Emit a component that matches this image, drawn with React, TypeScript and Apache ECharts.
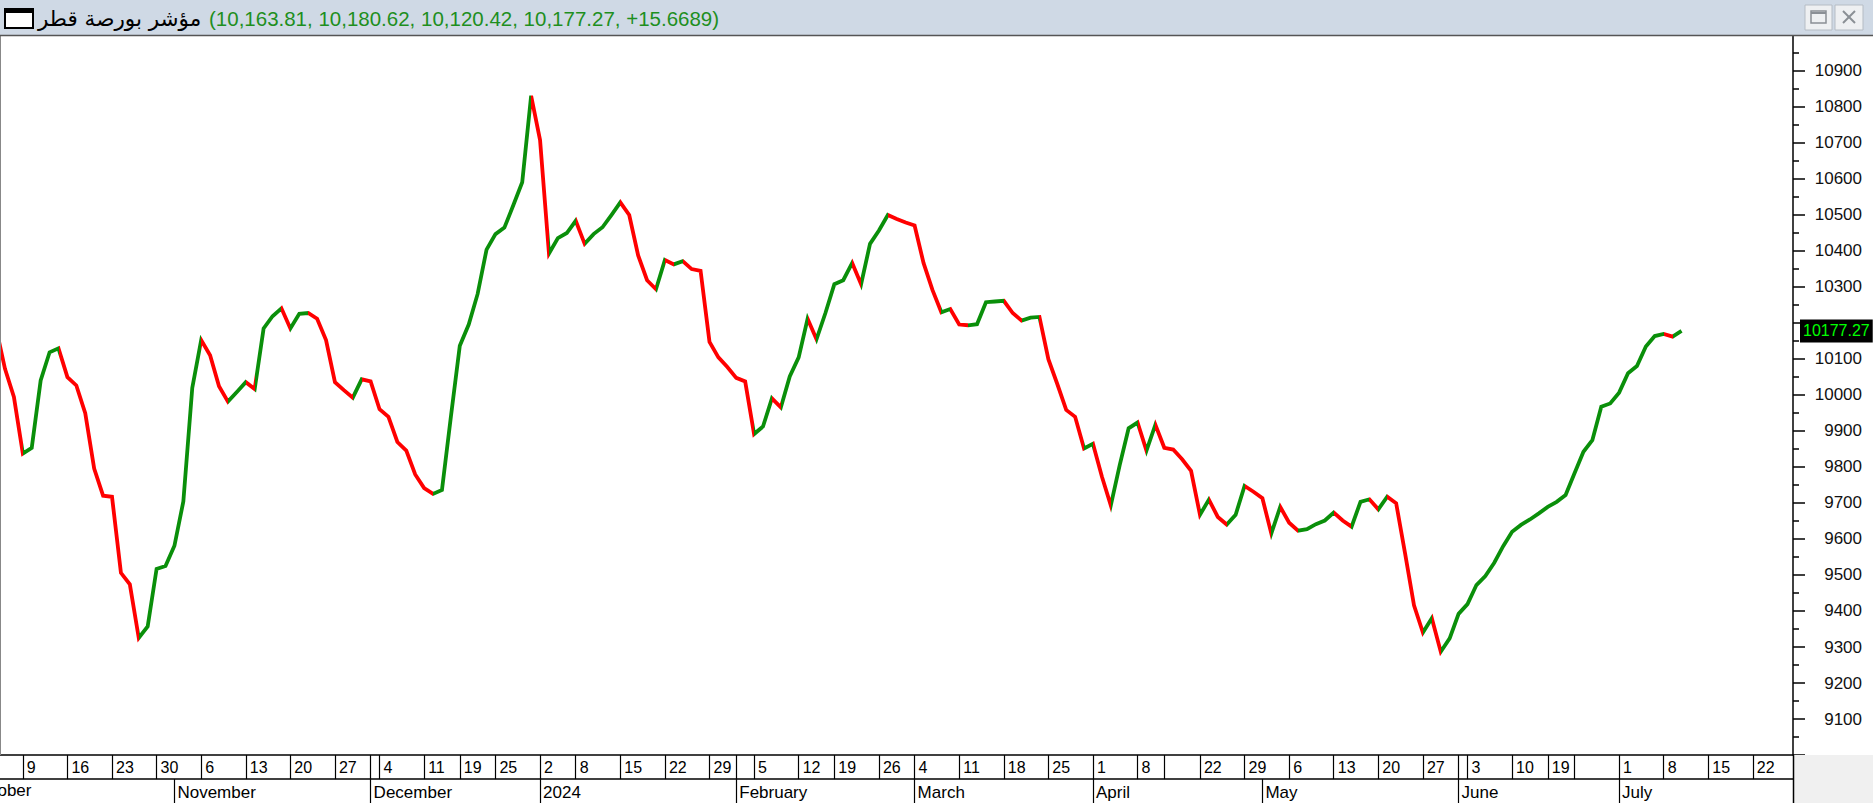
import React, { useEffect, useRef } from "react";
import * as echarts from "echarts";

// ---- data ----
// daily closes of the Qatar index, trading-day index -3 (4 Oct 2023) .. 187 (11 Jul 2024)
const firstDayIndex = -3;
const closeValues: number[] = [
  10186, 10072, 9994,
  9837, 9853, 10040, 10118, 10129,
  10049, 10026, 9949, 9795, 9720,
  9717, 9506, 9474, 9325, 9357,
  9517, 9525, 9581, 9704, 10019,
  10152, 10110, 10024, 9981, 10008,
  10035, 10016, 10184, 10218, 10240,
  10184, 10225, 10227, 10211, 10152,
  10035, 10013, 9992, 10043, 10037,
  9960, 9939, 9869, 9845, 9779,
  9741, 9725, 9736, 9939,
  10136, 10195, 10280, 10403,
  10446, 10464, 10526, 10590, 10830,
  10707, 10392, 10435, 10449,
  10483, 10419, 10446, 10465, 10499,
  10534, 10499, 10387, 10318, 10293,
  10374, 10362, 10371, 10349, 10344,
  10147, 10104, 10077, 10047, 10037,
  9891, 9912, 9990, 9965, 10051,
  10104, 10211, 10154, 10227,
  10307, 10318, 10366, 10307, 10419,
  10456, 10499, 10488, 10478,
  10470, 10366, 10291, 10229, 10238,
  10195, 10193, 10196, 10257, 10259,
  10261, 10227, 10206, 10214, 10216,
  10099, 10030, 9958, 9939, 9851,
  9864, 9773, 9693, 9805, 9907,
  9923, 9845, 9917,
  9853, 9848, 9821, 9789,
  9667, 9709, 9661, 9640, 9667,
  9747, 9731, 9713, 9615, 9689,
  9645, 9623, 9627, 9641, 9651,
  9673, 9651, 9634, 9703, 9710,
  9682, 9717, 9699, 9560, 9416,
  9340, 9380, 9287, 9324,
  9392, 9419, 9472, 9497, 9534,
  9580, 9620, 9639, 9654,
  9671, 9689, 9703,
  9722, 9782, 9842, 9874, 9967,
  9976, 10006, 10060, 10080, 10134,
  10163, 10169, 10161.6, 10177.27,
];

// last bar: open, high, low, close, change
const lastBar = { open: 10163.81, high: 10180.62, low: 10120.42, close: 10177.27, change: 15.6689 };
const titleName = "مؤشر بورصة قطر";

// weekly ticks (trading-day index) and their day labels
const dayTickIdx = [0, 5, 10, 15, 20, 25, 30, 35, 40, 45, 49, 53, 58, 62, 67, 72, 77, 82, 87, 91, 96, 100, 105, 110, 115, 120, 125, 128, 132, 137, 142, 147, 152, 157, 162, 167, 171, 174, 179, 184, 189, 194];
const dayTickLabels = ["9", "16", "23", "30", "6", "13", "20", "27", "4", "11", "19", "25", "2", "8", "15", "22", "29", "5", "12", "19", "26", "4", "11", "18", "25", "1", "8", "", "22", "29", "6", "13", "20", "27", "3", "10", "19", "", "1", "8", "15", "22"];
// extra separators in the day row
const dayRowExtraIdx = [39, 80, 161];
// month starts (trading-day index) and names
const monthIdx = [17, 39, 58, 80, 100, 120, 139, 161, 179];
const monthLabels = ["November", "December", "2024", "February", "March", "April", "May", "June", "July"];
const firstMonthLabel = "October";

const X_MIN = -2.56;
const X_MAX = 198.5;
const UP = "#0a8f0a";
const DOWN = "#ff0000";
const FONT = '"Liberation Sans", Arial, sans-serif';

function fmt(v: number, d: number) {
  return v.toLocaleString("en-US", { minimumFractionDigits: d, maximumFractionDigits: d });
}

export default function App() {
  const ref = useRef<HTMLDivElement>(null);
  useEffect(() => {
    if (!ref.current) return;
    const chart = echarts.init(ref.current, undefined, { renderer: "svg" });
    const points = closeValues.map((v, k) => [firstDayIndex + k, v]);
    const pieces: any[] = [];
    for (let k = 1; k < closeValues.length; k++) {
      const color = closeValues[k] >= closeValues[k - 1] ? UP : DOWN;
      const last = pieces[pieces.length - 1];
      if (last && last.color === color) last.lte = firstDayIndex + k;
      else pieces.push({ gt: firstDayIndex + k - 1, lte: firstDayIndex + k, color });
    }
    delete pieces[0].gt;
    delete pieces[pieces.length - 1].lte;

    const dayLabelMap: Record<number, string> = {};
    dayTickIdx.forEach((d, i) => (dayLabelMap[d] = dayTickLabels[i]));
    const monthLabelMap: Record<number, string> = {};
    monthIdx.forEach((d, i) => (monthLabelMap[d] = monthLabels[i]));
    const dayLines = Array.from(new Set([...dayTickIdx, ...dayRowExtraIdx])).sort((a, b) => a - b);
    const lastClose = closeValues[closeValues.length - 1];
    const titleValues = `(${fmt(lastBar.open, 2)}, ${fmt(lastBar.high, 2)}, ${fmt(lastBar.low, 2)}, ${fmt(lastBar.close, 2)}, +${lastBar.change.toFixed(4)})`;

    chart.setOption({
      animation: false,
      backgroundColor: "#ffffff",
      grid: { left: 0, right: 80, top: 34.5, bottom: 47.9, containLabel: false },
      xAxis: [
        {
          type: "value",
          min: X_MIN,
          max: X_MAX,
          position: "bottom",
          axisLine: { show: true, onZero: false, lineStyle: { color: "#000", width: 1.5 } },
          axisTick: { show: true, customValues: dayLines, length: 24, inside: false, lineStyle: { color: "#000", width: 1.2 } },
          axisLabel: {
            show: true,
            customValues: dayTickIdx,
            formatter: (v: number) => dayLabelMap[v] ?? "",
            align: "left",
            margin: 4,
            padding: [0, 0, 0, 4],
            fontSize: 16,
            color: "#000",
            fontFamily: FONT,
          },
          splitLine: { show: false },
        },
        {
          type: "value",
          min: X_MIN,
          max: X_MAX,
          position: "bottom",
          offset: 24,
          axisLine: { show: true, onZero: false, lineStyle: { color: "#000", width: 1.5 } },
          axisTick: { show: true, customValues: monthIdx, length: 26, inside: false, lineStyle: { color: "#000", width: 1.2 } },
          axisLabel: {
            show: true,
            customValues: monthIdx,
            formatter: (v: number) => monthLabelMap[v] ?? "",
            align: "left",
            margin: 5,
            padding: [0, 0, 0, 3],
            fontSize: 17,
            color: "#000",
            fontFamily: FONT,
          },
          splitLine: { show: false },
        },
      ],
      yAxis: {
        type: "value",
        position: "right",
        min: 9000,
        max: 11000,
        interval: 100,
        axisLine: { show: true, onZero: false, lineStyle: { color: "#000", width: 1.5 } },
        axisTick: { show: true, length: 12, inside: false, lineStyle: { color: "#000", width: 1.5 } },
        minorTick: { show: true, splitNumber: 2, length: 6, lineStyle: { color: "#000", width: 1.5 } },
        axisLabel: {
          showMinLabel: false,
          showMaxLabel: false,
          // the tick label hidden under the last-value box is left out
          formatter: (v: number) => (Math.abs(v - lastClose) < 40 ? "" : String(v)),
          align: "right",
          margin: 69,
          fontSize: 17,
          color: "#111",
          fontFamily: FONT,
        },
        splitLine: { show: false },
      },
      visualMap: {
        type: "piecewise",
        show: false,
        dimension: 0,
        seriesIndex: 0,
        pieces,
        outOfRange: { color: DOWN },
      },
      series: [
        {
          type: "line",
          xAxisIndex: 0,
          yAxisIndex: 0,
          data: points,
          showSymbol: false,
          symbol: "none",
          lineStyle: { width: 3.8, join: "miter" },
          clip: false,
          z: 5,
          markLine: {
            silent: true,
            symbol: "none",
            lineStyle: { color: "rgba(0,0,0,0)", width: 0, type: "solid" },
            label: {
              show: true,
              position: "end",
              distance: 7,
              formatter: () => lastClose.toFixed(2),
              backgroundColor: "#000",
              color: "#00ff00",
              opacity: 1,
              padding: [4, 3, 3, 3],
              fontSize: 16,
              fontFamily: FONT,
            },
            data: [{ yAxis: lastClose }],
          },
        },
      ],
      graphic: [
        { type: "rect", z: 100, shape: { x: 1794, y: 755, width: 79, height: 48 }, style: { fill: "#f0f0f0" } },
        { type: "line", z: 101, shape: { x1: 1793.5, y1: 755, x2: 1793.5, y2: 803 }, style: { stroke: "#000", lineWidth: 1.5 } },
        { type: "line", z: 101, shape: { x1: 0.5, y1: 36, x2: 0.5, y2: 755 }, style: { stroke: "#888", lineWidth: 1 } },
        {
          type: "text",
          z: 101,
          x: -29,
          y: 790,
          style: { text: firstMonthLabel, fontSize: 17, fontFamily: FONT, fill: "#000", textVerticalAlign: "middle" },
        },
        // title bar
        { type: "rect", z: 110, shape: { x: 0, y: 0, width: 1873, height: 35 }, style: { fill: "#cfd9e5" } },
        { type: "line", z: 111, shape: { x1: 0, y1: 35.5, x2: 1873, y2: 35.5 }, style: { stroke: "#555", lineWidth: 1.5 } },
        { type: "rect", z: 111, shape: { x: 5, y: 9, width: 28, height: 19 }, style: { fill: "#fff", stroke: "#000", lineWidth: 2 } },
        { type: "rect", z: 112, shape: { x: 5, y: 9, width: 28, height: 4 }, style: { fill: "#000" } },
        {
          type: "text",
          z: 112,
          x: 38,
          y: 18,
          style: { text: titleName, fontSize: 21.5, fontFamily: '"DejaVu Sans", "Noto Sans", sans-serif', fill: "#000", textVerticalAlign: "middle" },
        },
        {
          type: "text",
          z: 112,
          x: 209,
          y: 18,
          style: { text: titleValues, fontSize: 20.5, fontFamily: FONT, fill: "#1e8f1e", textVerticalAlign: "middle" },
        },
        { type: "rect", z: 111, shape: { x: 1805, y: 5, width: 27, height: 25 }, style: { fill: "#eef0f2", stroke: "#b5bcc4", lineWidth: 1 } },
        { type: "rect", z: 112, shape: { x: 1811, y: 11, width: 15, height: 12 }, style: { fill: "none", stroke: "#8a8f95", lineWidth: 1.5 } },
        { type: "line", z: 112, shape: { x1: 1811, y1: 13, x2: 1826, y2: 13 }, style: { stroke: "#8a8f95", lineWidth: 2 } },
        { type: "rect", z: 111, shape: { x: 1835, y: 5, width: 28, height: 25 }, style: { fill: "#eef0f2", stroke: "#b5bcc4", lineWidth: 1 } },
        { type: "line", z: 112, shape: { x1: 1843, y1: 11, x2: 1855, y2: 23 }, style: { stroke: "#8a8f95", lineWidth: 2 } },
        { type: "line", z: 112, shape: { x1: 1855, y1: 11, x2: 1843, y2: 23 }, style: { stroke: "#8a8f95", lineWidth: 2 } },
      ],
    });
    return () => chart.dispose();
  }, []);
  return <div ref={ref} style={{ position: "fixed", left: 0, top: 0, width: 1873, height: 803 }} />;
}
